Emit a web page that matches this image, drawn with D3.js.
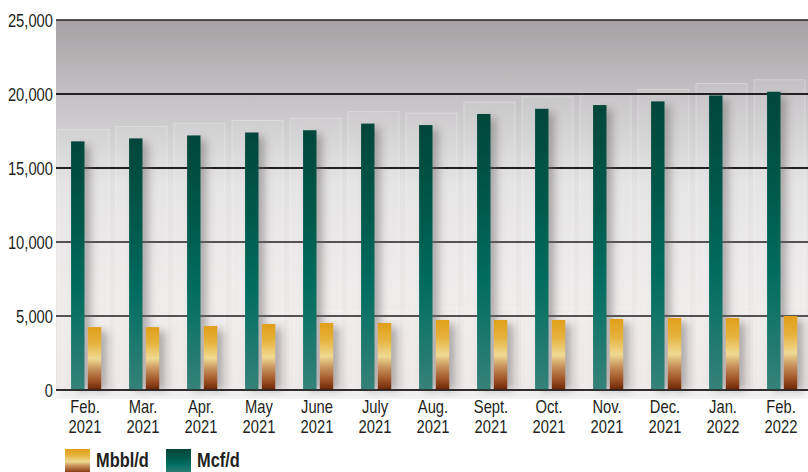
<!DOCTYPE html>
<html>
<head>
<meta charset="utf-8">
<script src="https://cdn.jsdelivr.net/npm/d3@7"></script>
<style>
  body { margin: 0; background: #fff; }
  svg { display: block; }
  text { font-family: "Liberation Sans", Arial, sans-serif; fill: #231f20; }
</style>
</head>
<body>
<svg id="chart" width="808" height="472"></svg>
<script>
// chart data
var months = ['Feb.', 'Mar.', 'Apr.', 'May', 'June', 'July', 'Aug.', 'Sept.', 'Oct.', 'Nov.', 'Dec.', 'Jan.', 'Feb.'];
var years = ['2021', '2021', '2021', '2021', '2021', '2021', '2021', '2021', '2021', '2021', '2021', '2022', '2022'];
var gasMcf = [16800, 17000, 17200, 17400, 17550, 18000, 17900, 18650, 19000, 19250, 19500, 19900, 20150];
var oilMbbl = [4250, 4250, 4320, 4460, 4530, 4530, 4730, 4730, 4730, 4800, 4860, 4860, 5000];
var yTicks = [0, 5000, 10000, 15000, 20000, 25000];
var seriesNames = ['Mbbl/d', 'Mcf/d'];

var svg = d3.select('#chart');
var plotLeft = 56, plotRight = 810, plotTop = 20, plotBottom = 390;
var narrow = 0.82;   // squeeze text to look like a condensed face

var idx = d3.range(months.length);
var x = d3.scaleBand().domain(idx).range([plotLeft, plotRight]).paddingInner(0);
var bw = x.bandwidth();
var xs = d3.scaleBand().domain(['gas', 'oil']).range([bw * 0.26, bw * 0.78]).paddingInner(0.2);
var y = d3.scaleLinear().domain([0, 25000]).range([plotBottom, plotTop]);

var defs = svg.append('defs');

function vgrad(id, stops)
{
    var g = defs.append('linearGradient').attr('id', id)
        .attr('x1', 0).attr('y1', 0).attr('x2', 0).attr('y2', 1);
    stops.forEach(function(s)
    {
        g.append('stop').attr('offset', s[0]).attr('stop-color', s[1]);
    });
}

vgrad('bg', [[0, '#a5a1a4'], [0.2, '#c3c1c3'], [0.45, '#e3e2e3'], [0.75, '#ece8e8'], [1, '#e9e2e2']]);
vgrad('green', [[0, '#00463a'], [0.35, '#005a4c'], [0.6, '#006c5f'], [1, '#358279']]);
vgrad('gold', [[0, '#e19f1a'], [0.25, '#e6b23c'], [0.5, '#f0da92'], [0.68, '#c48d58'], [0.85, '#a05426'], [1, '#6b2405']]);
vgrad('ghost', [[0, 'rgba(255,255,255,0.08)'], [1, 'rgba(255,255,255,0.2)']]);

var blur = defs.append('filter').attr('id', 'shadow')
    .attr('x', '-100%').attr('y', '-10%').attr('width', '300%').attr('height', '120%');
blur.append('feGaussianBlur').attr('stdDeviation', 4);

// background
svg.append('rect')
    .attr('x', plotLeft).attr('y', plotTop)
    .attr('width', 808 - plotLeft).attr('height', plotBottom - plotTop)
    .attr('fill', 'url(#bg)');

// soft shadow under the baseline
svg.append('rect')
    .attr('x', plotLeft).attr('y', plotBottom)
    .attr('width', 808 - plotLeft).attr('height', 8)
    .attr('fill', '#d8d6d6').attr('filter', 'url(#shadow)').attr('opacity', 0.6);

// faint boxes behind the bars
svg.append('g').selectAll('rect')
    .data(idx)
    .join('rect')
    .attr('x', function(i) { return x(i) + 2; })
    .attr('y', function(i) { return y(gasMcf[i]) - 12; })
    .attr('width', bw - 7)
    .attr('height', function(i) { return plotBottom - y(gasMcf[i]) + 12; })
    .attr('fill', 'url(#ghost)')
    .attr('stroke', 'rgba(255,255,255,0.3)')
    .attr('stroke-width', 1);

svg.append('g').selectAll('rect')
    .data(idx)
    .join('rect')
    .attr('x', function(i) { return x(i) + 6; })
    .attr('y', function(i) { return y(oilMbbl[i]) - 12; })
    .attr('width', bw - 6)
    .attr('height', function(i) { return plotBottom - y(oilMbbl[i]) + 12; })
    .attr('fill', 'rgba(255,255,255,0.06)')
    .attr('stroke', 'rgba(255,255,255,0.25)')
    .attr('stroke-width', 1);

// gridlines
svg.append('g').selectAll('line')
    .data(yTicks)
    .join('line')
    .attr('x1', plotLeft).attr('x2', 808)
    .attr('y1', function(d) { return y(d); })
    .attr('y2', function(d) { return y(d); })
    .attr('stroke', '#231f20')
    .attr('stroke-width', function(d) { return (d == 15000 || d == 20000) ? 1.8 : 1.3; });

// bar shadows
var shadows = svg.append('g').attr('opacity', 0.5);
idx.forEach(function(i)
{
    shadows.append('rect')
        .attr('x', x(i) + xs('gas') + 6)
        .attr('y', y(gasMcf[i]) + 4)
        .attr('width', xs.bandwidth())
        .attr('height', plotBottom - y(gasMcf[i]) - 4)
        .attr('fill', '#6d6769')
        .attr('filter', 'url(#shadow)');
    shadows.append('rect')
        .attr('x', x(i) + xs('oil') + 6)
        .attr('y', y(oilMbbl[i]) + 4)
        .attr('width', xs.bandwidth())
        .attr('height', plotBottom - y(oilMbbl[i]) - 4)
        .attr('fill', '#6d6769')
        .attr('filter', 'url(#shadow)');
});

// bars
svg.append('g').selectAll('rect')
    .data(idx)
    .join('rect')
    .attr('x', function(i) { return x(i) + xs('gas'); })
    .attr('y', function(i) { return y(gasMcf[i]); })
    .attr('width', xs.bandwidth())
    .attr('height', function(i) { return y(0) - y(gasMcf[i]); })
    .attr('fill', 'url(#green)');

svg.append('g').selectAll('rect')
    .data(idx)
    .join('rect')
    .attr('x', function(i) { return x(i) + xs('oil'); })
    .attr('y', function(i) { return y(oilMbbl[i]); })
    .attr('width', xs.bandwidth())
    .attr('height', function(i) { return y(0) - y(oilMbbl[i]); })
    .attr('fill', 'url(#gold)');

// baseline on top
svg.append('line')
    .attr('x1', plotLeft).attr('x2', 808)
    .attr('y1', y(0)).attr('y2', y(0))
    .attr('stroke', '#231f20').attr('stroke-width', 1.5);

// y axis labels
var yAxis = d3.axisLeft(y).tickValues(yTicks).tickSize(0).tickPadding(0)
    .tickFormat(d3.format(','));
var ya = svg.append('g').attr('transform', 'translate(' + (plotLeft - 3) + ',0)').call(yAxis);
ya.select('.domain').remove();
ya.attr('font-family', null).attr('font-size', null);
ya.selectAll('text')
    .attr('x', 0)
    .attr('font-size', 18)
    .attr('fill', '#231f20')
    .attr('dy', '0.36em')
    .attr('transform', 'scale(' + narrow + ',1)');

// x axis labels
var xl = svg.append('g').selectAll('text')
    .data(idx)
    .join('text')
    .attr('transform', function(i) { return 'translate(' + (x(i) + bw / 2) + ',413) scale(' + narrow + ',1)'; })
    .attr('text-anchor', 'middle')
    .attr('font-size', 18);
xl.append('tspan').attr('x', 0).text(function(i) { return months[i]; });
xl.append('tspan')
    .attr('x', 0)
    .attr('dy', 20)
    .text(function(i) { return years[i]; });

// legend
var legend = svg.append('g');
var legendFill = ['url(#gold)', 'url(#green)'];
var legendX = [65, 166];
seriesNames.forEach(function(name, k)
{
    legend.append('rect')
        .attr('x', legendX[k]).attr('y', 449)
        .attr('width', 25).attr('height', 25)
        .attr('fill', legendFill[k]);
    legend.append('text')
        .attr('transform', 'translate(' + (legendX[k] + 31) + ',467) scale(' + narrow + ',1)')
        .attr('font-size', 20)
        .attr('font-weight', 'bold')
        .text(name);
});
</script>
</body>
</html>
